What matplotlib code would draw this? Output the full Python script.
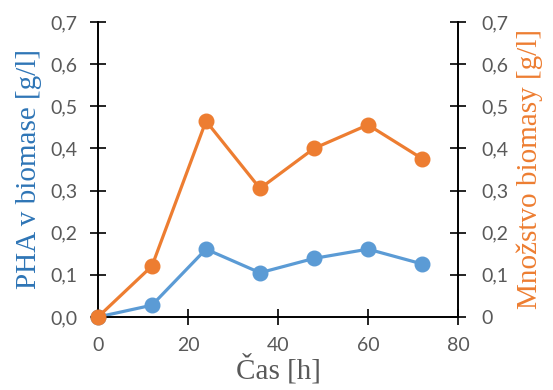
import matplotlib.pyplot as plt
from matplotlib.ticker import FuncFormatter

# time points [h]
cas = [0, 12, 24, 36, 48, 60, 72]
# PHA in biomass [g/l]
pha = [0.0, 0.028, 0.161, 0.105, 0.139, 0.161, 0.126]
# biomass amount [g/l]
biomasa = [0.0, 0.121, 0.465, 0.305, 0.400, 0.456, 0.376]

y_ticks = [0.0, 0.1, 0.2, 0.3, 0.4, 0.5, 0.6, 0.7]
x_ticks = [0, 20, 40, 60, 80]

blue = '#5B9BD5'
orange = '#ED7D31'
gray = '#595959'
tick_font = 'Lato'
title_font = 'Liberation Serif'

fig = plt.figure(figsize=(5.53, 3.90), dpi=100)
ax = fig.add_axes([0.1772, 0.1872, 0.6510, 0.7564])
ax2 = ax.twinx()

ax.plot(cas, pha, color=blue, lw=2.3, marker='o', ms=10.5, zorder=3)
ax2.plot(cas, biomasa, color=orange, lw=2.3, marker='o', ms=10.5, zorder=3)

for a in (ax, ax2):
    a.set_ylim(0, 0.7)
    a.set_yticks(y_ticks)
    a.set_xlim(0, 80)
    a.set_xticks(x_ticks)
    a.spines['top'].set_visible(False)
    for s in ('left', 'right', 'bottom'):
        a.spines[s].set_linewidth(1.2)
        a.spines[s].set_color('black')
    a.tick_params(direction='inout', length=11, width=1.2, color='black',
                  labelcolor=gray, labelsize=14)
    for lab in a.get_xticklabels() + a.get_yticklabels():
        lab.set_fontfamily(tick_font)

ax.yaxis.set_major_formatter(FuncFormatter(lambda v, p: f'{v:.1f}'.replace('.', ',')))
ax2.yaxis.set_major_formatter(FuncFormatter(
    lambda v, p: '0' if v == 0 else f'{v:.1f}'.replace('.', ',')))
for lab in ax.get_yticklabels() + ax2.get_yticklabels():
    lab.set_fontfamily(tick_font)

ax.tick_params(axis='y', pad=9)
ax2.tick_params(axis='y', pad=11)
ax.tick_params(axis='x', pad=9)

ax.set_xlabel('Čas [h]', fontfamily=title_font, fontsize=21, color=gray, labelpad=0)
ax.set_ylabel('PHA v biomase [g/l]', fontfamily=title_font, fontsize=21,
              color='#2E75B6', labelpad=6)
ax2.set_ylabel('Množstvo biomasy [g/l]', fontfamily=title_font, fontsize=21,
               color=orange, labelpad=6)

for line in ax.lines + ax2.lines:
    line.set_clip_on(False)

fig.savefig('out.png', dpi=100)
